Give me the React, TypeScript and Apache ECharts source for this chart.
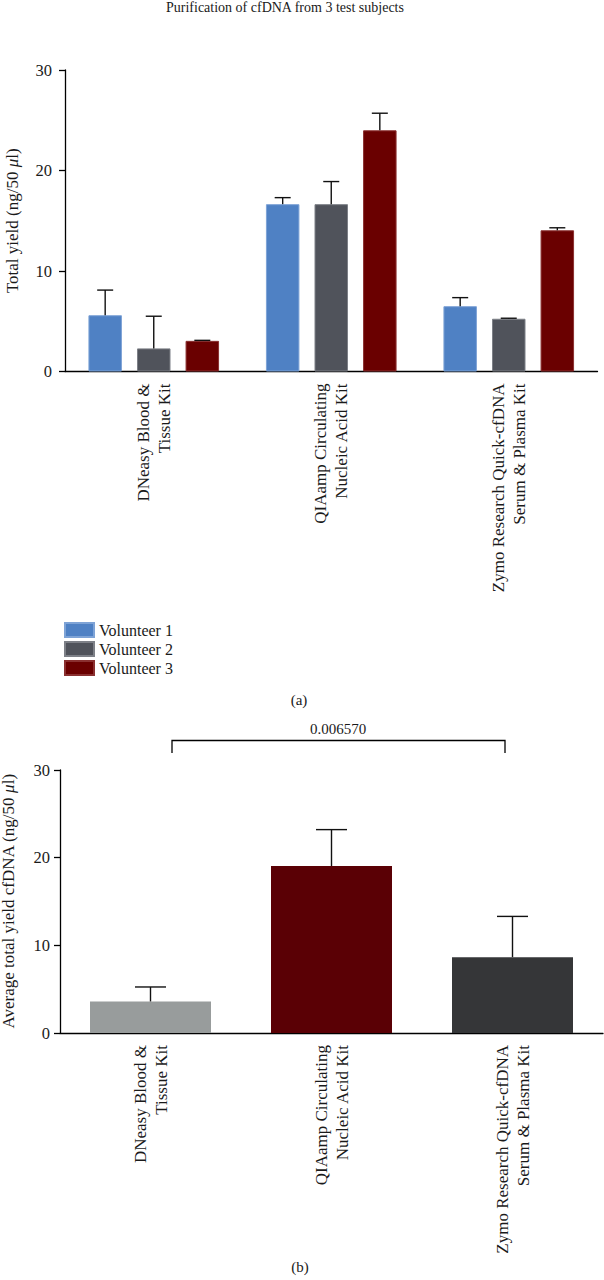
import React, { useEffect, useRef } from "react";
import * as echarts from "echarts";

const kitsA = ["DNeasy Blood &\nTissue Kit", "QIAamp Circulating\nNucleic Acid Kit", "Zymo Research Quick-cfDNA\nSerum & Plasma Kit"];
const volunteers = ["Volunteer 1", "Volunteer 2", "Volunteer 3"];
const vol1 = [5.6, 16.65, 6.5];
const vol1Err = [8.1, 17.3, 7.35];
const vol2 = [2.3, 16.65, 5.25];
const vol2Err = [5.5, 18.9, 5.3];
const vol3 = [3.05, 24.0, 14.05];
const vol3Err = [3.1, 25.7, 14.3];
const avgValues = [3.6, 19.05, 8.65];
const avgErr = [5.25, 23.2, 13.3];
const yTicks = [0, 10, 20, 30];
const pValue = "0.006570";

const FONT = "'Liberation Serif', 'Times New Roman', serif";
const TXT = "#1a1a1a";
const colorsA = ["#4f81c4", "#50535b", "#6a0000"];
const bordersA = ["#7ea3d6", "#7d8087", "#8a3030"];
const colorsB = ["#989c9c", "#5a0005", "#353638"];

export default function App() {
  const ref = useRef<HTMLDivElement>(null);
  useEffect(() => {
    const chart = echarts.init(ref.current!, null, { renderer: "svg" });
    const valsA = [vol1, vol2, vol3];
    const errsA = [vol1Err, vol2Err, vol3Err];
    const barW = 33.5;
    const gapPct = 45;
    const step = barW * (1 + gapPct / 100);

    const errSeries = (gridIdx: number, vals: number[], errs: number[], offset: number, halfCap: number, name: string) => ({
      type: "custom",
      name,
      xAxisIndex: gridIdx,
      yAxisIndex: gridIdx,
      z: 5,
      silent: true,
      data: vals.map((v, i) => [i, v, errs[i]]),
      renderItem: (params: any, api: any) => {
        const p0 = api.coord([api.value(0), api.value(1)]);
        const p1 = api.coord([api.value(0), api.value(2)]);
        const cx = p0[0] + offset;
        const st = { stroke: "#111", lineWidth: 1.4 };
        return {
          type: "group",
          children: [
            { type: "line", shape: { x1: cx, y1: p0[1], x2: cx, y2: p1[1] }, style: st },
            { type: "line", shape: { x1: cx - halfCap, y1: p1[1], x2: cx + halfCap, y2: p1[1] }, style: st },
          ],
        };
      },
    });

    const yAxisCommon = (gridIdx: number, name: string, margin: number, nameGap: number) => ({
      type: "value",
      gridIndex: gridIdx,
      min: 0,
      max: 30,
      interval: 10,
      name,
      nameLocation: "middle",
      nameGap,
      nameTextStyle: {
        fontFamily: FONT,
        fontSize: 17,
        color: TXT,
        rich: { i: { fontStyle: "italic", fontFamily: FONT, fontSize: 17, color: TXT } },
      },
      splitLine: { show: false },
      axisLine: { show: true, lineStyle: { color: "#000", width: 1.3 } },
      axisTick: { show: true, length: 6, lineStyle: { color: "#000", width: 1.3 } },
      axisLabel: {
        margin,
        fontFamily: FONT,
        fontSize: 16.5,
        color: TXT,
        formatter: (v: number) => (yTicks.includes(v) ? String(v) : ""),
      },
    });

    const xAxisCommon = (gridIdx: number) => ({
      type: "category",
      gridIndex: gridIdx,
      data: kitsA,
      axisLine: { lineStyle: { color: "#000", width: 1.3 } },
      axisTick: { alignWithLabel: true, length: 6, lineStyle: { color: "#000", width: 1.3 } },
      axisLabel: {
        interval: 0,
        rotate: 90,
        margin: 12,
        fontFamily: FONT,
        fontSize: 17,
        lineHeight: 21,
        color: TXT,
      },
    });

    chart.setOption({
      animation: false,
      textStyle: { fontFamily: FONT },
      grid: [
        { left: 65, top: 70, width: 532.5, height: 301.5, outerBoundsMode: "none", containLabel: false },
        { left: 60, top: 770, width: 543, height: 263, outerBoundsMode: "none", containLabel: false },
      ],
      xAxis: [xAxisCommon(0), xAxisCommon(1)],
      yAxis: [
        yAxisCommon(0, "Total yield (ng/50 {i|μ}l)", 13, 44),
        yAxisCommon(1, "Average total yield cfDNA (ng/50 {i|μ}l)", 10, 43),
      ],
      legend: {
        data: volunteers,
        orient: "vertical",
        left: 64,
        top: 622,
        padding: 0,
        icon: "rect",
        itemWidth: 29,
        itemHeight: 14,
        itemGap: 3,
        selectedMode: false,
        textStyle: { fontFamily: FONT, fontSize: 16, color: TXT },
      },
      series: [
        ...volunteers.map((name, s) => ({
          type: "bar",
          name,
          xAxisIndex: 0,
          yAxisIndex: 0,
          barWidth: barW,
          barGap: gapPct + "%",
          data: valsA[s],
          itemStyle: { color: colorsA[s], borderColor: bordersA[s], borderWidth: 1 },
        })),
        ...volunteers.map((name, s) => errSeries(0, valsA[s], errsA[s], (s - 1) * step, 8, "err" + s)),
        {
          type: "bar",
          name: "Average",
          xAxisIndex: 1,
          yAxisIndex: 1,
          barWidth: 121,
          data: avgValues.map((v, i) => ({ value: v, itemStyle: { color: colorsB[i] } })),
        },
        errSeries(1, avgValues, avgErr, 0, 15.5, "avgErr"),
      ],
      graphic: [
        {
          type: "text",
          left: 166,
          top: 0,
          style: { text: "Purification of cfDNA from 3 test subjects", fontFamily: FONT, fontSize: 14, fill: TXT },
        },
        {
          type: "text",
          x: 299,
          y: 700,
          style: { text: "(a)", fontFamily: FONT, fontSize: 15, fill: TXT, align: "center", verticalAlign: "middle" },
        },
        {
          type: "text",
          x: 300,
          y: 1267,
          style: { text: "(b)", fontFamily: FONT, fontSize: 15, fill: TXT, align: "center", verticalAlign: "middle" },
        },
        {
          type: "polyline",
          shape: { points: [[172, 753], [172, 740.5], [505, 740.5], [505, 753]] },
          style: { stroke: "#000", lineWidth: 1.3, fill: "none" },
        },
        {
          type: "text",
          x: 338,
          y: 729,
          style: { text: pValue, fontFamily: FONT, fontSize: 15, fill: TXT, align: "center", verticalAlign: "middle" },
        },
      ],
    });
    return () => chart.dispose();
  }, []);
  return <div ref={ref} style={{ position: "absolute", left: 0, top: 0, width: 604, height: 1280, background: "#fff" }} />;
}
